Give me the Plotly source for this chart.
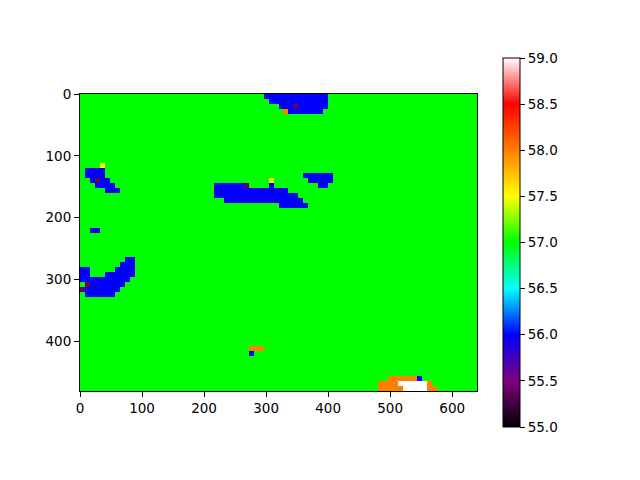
import numpy as np
import plotly.graph_objects as go

# ---- data (8-unit cells, 60 rows x 80 cols, image 480 x 640) ----
N_ROWS = 60
N_COLS = 80
CELL = 8
Z_MIN, Z_MAX = 55.0, 59.0

# code -> value
code_values = {".": 57.0, "b": 56.0, "o": 58.0, "w": 59.0, "y": 57.5, "p": 55.4}

# rows that differ from the background value (57.0); each string starts at column 0
grid_rows = {
    0: "." * 37 + "b" * 13,
    1: "." * 38 + "b" * 12,
    2: "." * 40 + "bbb" + "p" + "b" * 6,
    3: "." * 41 + "o" + "b" * 7,
    14: "." * 4 + "y",
    15: "." + "b" * 4,
    16: "." + "b" * 4 + "." * 40 + "b" * 6,
    17: ".." + "bpbb" + "." * 32 + "y" + "." * 7 + "b" * 5,
    18: "..." + "b" * 4 + "." * 20 + "b" * 6 + "p" + "." * 4 + "b" + "." * 9 + "bb",
    19: "." * 5 + "bbb" + "." * 19 + "b" * 15,
    20: "." * 27 + "b" * 17,
    21: "." * 29 + "b" * 16,
    22: "." * 40 + "b" * 6,
    27: ".." + "bb",
    33: "." * 9 + "bb",
    34: "." * 8 + "bbb",
    35: "bb" + "." * 5 + "b" * 4,
    36: "bb" + "..." + "b" * 6,
    37: "b" * 10,
    38: ".p" + "b" * 7,
    39: "p" + "b" * 7,
    40: "." + "b" * 6,
    51: "." * 34 + "ooo",
    52: "." * 34 + "b",
    57: "." * 62 + "o" * 6 + "b",
    58: "." * 60 + "oooo" + "w" * 6 + "o",
    59: "." * 60 + "o" * 5 + "w" * 5 + "oo",
}

x_ticks = [0, 100, 200, 300, 400, 500, 600]
y_ticks = [0, 100, 200, 300, 400]
cbar_ticks = [55.0, 55.5, 56.0, 56.5, 57.0, 57.5, 58.0, 58.5, 59.0]

# ---- build the value grid ----
z = np.full((N_ROWS, N_COLS), code_values["."])
for r, s in grid_rows.items():
    for c, ch in enumerate(s):
        z[r, c] = code_values[ch]

colorscale = [
    [0.0, "rgb(0,0,0)"],
    [0.125, "rgb(128,0,128)"],
    [0.25, "rgb(0,0,255)"],
    [0.375, "rgb(0,255,255)"],
    [0.5, "rgb(0,255,0)"],
    [0.625, "rgb(255,255,0)"],
    [0.75, "rgb(255,128,0)"],
    [0.875, "rgb(255,0,0)"],
    [1.0, "rgb(255,255,255)"],
]

font = dict(family="DejaVu Sans", size=13.5, color="black")

fig = go.Figure(
    go.Heatmap(
        z=z,
        x0=CELL / 2, dx=CELL,
        y0=CELL / 2, dy=CELL,
        zmin=Z_MIN, zmax=Z_MAX,
        colorscale=colorscale,
        showscale=True,
        colorbar=dict(
            x=1.0655, xanchor="left", xpad=0,
            y=0.5, yanchor="middle", ypad=0,
            len=369, lenmode="pixels",
            thickness=17, thicknessmode="pixels",
            outlinecolor="black", outlinewidth=1,
            ticks="outside", ticklen=5, tickwidth=1, tickcolor="black",
            tickvals=cbar_ticks,
            ticktext=[f"{v:.1f}" for v in cbar_ticks],
            tickfont=font,
        ),
    )
)

axis_common = dict(
    showgrid=False, zeroline=False,
    showline=True, mirror=True, linecolor="black", linewidth=1,
    ticks="outside", ticklen=5, tickwidth=1, tickcolor="black",
    tickfont=font,
)
fig.update_xaxes(range=[0, N_COLS * CELL], tickvals=x_ticks, **axis_common)
fig.update_yaxes(range=[N_ROWS * CELL, 0], tickvals=y_ticks, **axis_common)

fig.update_layout(
    width=640, height=480,
    margin=dict(l=80, r=163, t=94, b=89),
    paper_bgcolor="white", plot_bgcolor="white",
    font=font,
)

fig.write_html("out.html")
